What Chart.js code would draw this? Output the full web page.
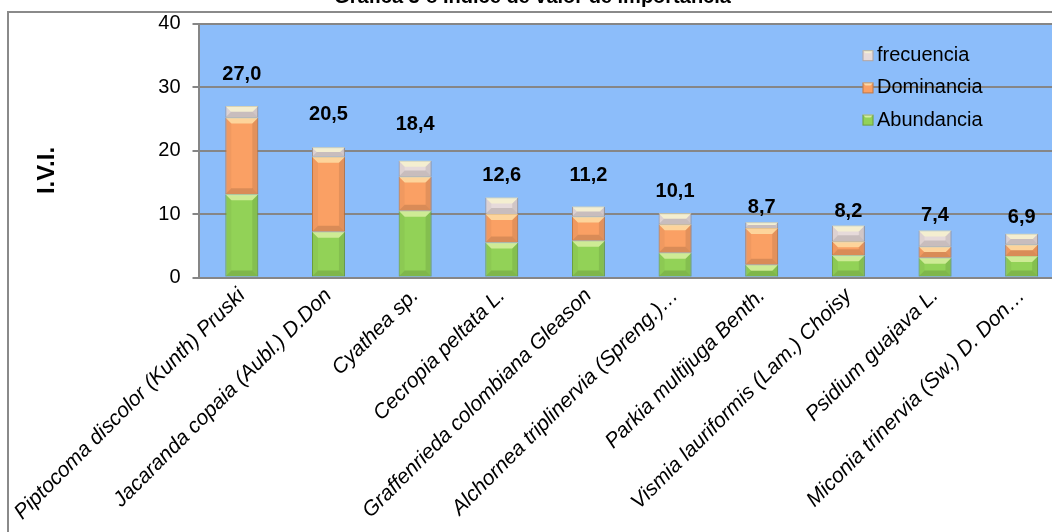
<!DOCTYPE html>
<html lang="es">
<head>
<meta charset="utf-8">
<title>Índice de valor de importancia</title>
<script src="https://cdn.jsdelivr.net/npm/chart.js@4.4.1/dist/chart.umd.min.js"></script>
<style>
  html, body { margin: 0; padding: 0; background: #fff; overflow: hidden; }
  body { width: 1052px; height: 532px; position: relative; }
  #marco { position: absolute; left: 7px; top: 11px; width: 1100px; height: 600px;
           border-top: 2px solid #8a8a8a; border-left: 2px solid #8a8a8a; }
  #grafica { position: absolute; left: 0; top: -30px; }
</style>
</head>
<body>
<div id="marco"></div>
<canvas id="grafica" width="1070" height="562"></canvas>
<script>
// especies (eje X)
const especies = [
  'Piptocoma discolor (Kunth) Pruski',
  'Jacaranda copaia (Aubl.) D.Don',
  'Cyathea sp.',
  'Cecropia peltata L.',
  'Graffenrieda colombiana Gleason',
  'Alchornea triplinervia (Spreng.)…',
  'Parkia multijuga Benth.',
  'Vismia lauriformis (Lam.) Choisy',
  'Psidium guajava L.',
  'Miconia trinervia (Sw.) D. Don…'
];

// componentes del I.V.I.
const abundancia = [13.1, 7.2, 10.5, 5.5, 5.8, 3.9, 2.0, 3.5, 3.1, 3.4];
const dominancia = [12.1, 11.8, 5.4, 4.5, 3.8, 4.5, 5.8, 2.2, 1.8, 1.8];
const frecuencia = [1.8, 1.5, 2.5, 2.6, 1.6, 1.7, 0.9, 2.5, 2.5, 1.7];

// marcas del eje Y
const ejeY = [0, 10, 20, 30, 40];

const FUENTE = '"Liberation Sans", Arial, sans-serif';

// fondo azul del area de trazado
const fondoArea = {
  id: 'fondoArea',
  beforeDraw(chart) {
    const { ctx, chartArea: a } = chart;
    ctx.save();
    ctx.fillStyle = '#8CBDFA';
    ctx.fillRect(a.left, a.top, a.right - a.left, a.bottom - a.top);
    ctx.restore();
  }
};

function poligono(ctx, pts, color) {
  ctx.beginPath();
  ctx.moveTo(pts[0][0], pts[0][1]);
  for (let i = 1; i < pts.length; i++) ctx.lineTo(pts[i][0], pts[i][1]);
  ctx.closePath();
  ctx.fillStyle = color;
  ctx.fill();
}

// efecto de bisel tipo Excel sobre cada segmento
const biselBarras = {
  id: 'biselBarras',
  afterDatasetsDraw(chart) {
    const ctx = chart.ctx;
    ctx.save();
    chart.getSortedVisibleDatasetMetas().forEach(meta => {
      meta.data.forEach(bar => {
        const { x, y, base, width } = bar.getProps(['x', 'y', 'base', 'width'], true);
        const l = x - width / 2, r = x + width / 2;
        const t = Math.min(y, base), b = Math.max(y, base);
        const s = Math.min(6, (b - t) / 2);
        poligono(ctx, [[l, t], [r, t], [r - s, t + s], [l + s, t + s]], 'rgba(255,255,200,0.55)');
        poligono(ctx, [[l, b], [r, b], [r - s, b - s], [l + s, b - s]], 'rgba(0,0,0,0.13)');
        poligono(ctx, [[l, t], [l + s, t + s], [l + s, b - s], [l, b]], 'rgba(0,0,0,0.04)');
        poligono(ctx, [[r, t], [r - s, t + s], [r - s, b - s], [r, b]], 'rgba(0,0,0,0.09)');
      });
    });
    ctx.restore();
  }
};

// total del I.V.I. encima de cada barra
const etiquetasTotal = {
  id: 'etiquetasTotal',
  afterDatasetsDraw(chart, args, opts) {
    const ctx = chart.ctx;
    const metas = chart.getSortedVisibleDatasetMetas();
    const arriba = metas[metas.length - 1];
    ctx.save();
    ctx.font = 'bold 20px ' + FUENTE;
    ctx.fillStyle = '#000';
    ctx.textAlign = 'center';
    ctx.textBaseline = 'middle';
    especies.forEach((_, i) => {
      const total = abundancia[i] + dominancia[i] + frecuencia[i];
      const bar = arriba.data[i];
      ctx.fillText(total.toFixed(1).replace('.', ','), bar.x, bar.y - opts.alturas[i]);
    });
    ctx.restore();
  }
};

// leyenda dentro del area de trazado
const leyendaInterna = {
  id: 'leyendaInterna',
  afterDraw(chart, args, opts) {
    const { ctx, chartArea } = chart;
    const items = chart.data.datasets.slice().reverse();
    ctx.save();
    ctx.font = '20px ' + FUENTE;
    ctx.textBaseline = 'middle';
    ctx.textAlign = 'left';
    items.forEach((ds, k) => {
      const x = chartArea.left + opts.x;
      const y = chartArea.top + opts.y + k * opts.paso;
      ctx.fillStyle = ds.backgroundColor;
      ctx.fillRect(x, y - 5.5, 11, 11);
      poligono(ctx, [[x, y - 5.5], [x + 11, y - 5.5], [x + 8, y - 2.5], [x + 3, y - 2.5]], 'rgba(255,255,210,0.6)');
      ctx.strokeStyle = 'rgba(0,0,0,0.25)';
      ctx.lineWidth = 1;
      ctx.strokeRect(x + 0.5, y - 5, 10, 10);
      ctx.fillStyle = '#000';
      ctx.fillText(ds.label, x + 14.5, y);
    });
    ctx.restore();
  }
};

new Chart(document.getElementById('grafica'), {
  type: 'bar',
  data: {
    labels: especies,
    datasets: [
      { label: 'Abundancia', data: abundancia, backgroundColor: '#92D257', borderColor: '#6FA43C', borderWidth: 1 },
      { label: 'Dominancia', data: dominancia, backgroundColor: '#FAA064', borderColor: '#C97A45', borderWidth: 1 },
      { label: 'frecuencia', data: frecuencia, backgroundColor: '#E6DADA', borderColor: '#A89C9C', borderWidth: 1 }
    ]
  },
  options: {
    responsive: false,
    animation: false,
    devicePixelRatio: 1,
    categoryPercentage: 1,
    barPercentage: 0.38,
    layout: { padding: { top: 10, left: 0, right: 5, bottom: 0 } },
    plugins: {
      legend: { display: false },
      tooltip: { enabled: false },
      title: {
        display: true,
        text: 'Grafica 3-8 Índice de valor de importancia',
        color: '#000',
        font: { family: FUENTE, size: 20, weight: 'bold' },
        padding: { top: 5, bottom: 14.5 }
      },
      etiquetasTotal: { alturas: [32, 33, 36, 22, 31, 22, 15, 14, 15, 16] },
      leyendaInterna: { x: 664, y: 32.2, paso: 32.2 }
    },
    scales: {
      x: {
        stacked: true,
        afterFit: s => { s.height = 254.5; },
        grid: { display: false, drawTicks: false },
        border: { display: true, color: '#868686', width: 2 },
        ticks: {
          color: '#000',
          font: { family: FUENTE, size: 21, style: 'italic' },
          minRotation: 45,
          maxRotation: 45,
          autoSkip: false,
          padding: 6
        }
      },
      y: {
        stacked: true,
        min: ejeY[0],
        max: ejeY[ejeY.length - 1],
        afterFit: s => { s.width = 198.5; },
        afterBuildTicks: s => { s.ticks = ejeY.map(v => ({ value: v })); },
        grid: { color: '#868686', lineWidth: 2, tickLength: 6 },
        border: { display: true, color: '#868686', width: 2 },
        ticks: { color: '#000', font: { family: FUENTE, size: 20 }, padding: 12 },
        title: {
          display: true,
          text: 'I.V.I.      ',
          color: '#000',
          font: { family: FUENTE, size: 24, weight: 'bold' },
          padding: { top: 33, bottom: 0 }
        }
      }
    }
  },
  plugins: [fondoArea, biselBarras, etiquetasTotal, leyendaInterna]
});
</script>
</body>
</html>
